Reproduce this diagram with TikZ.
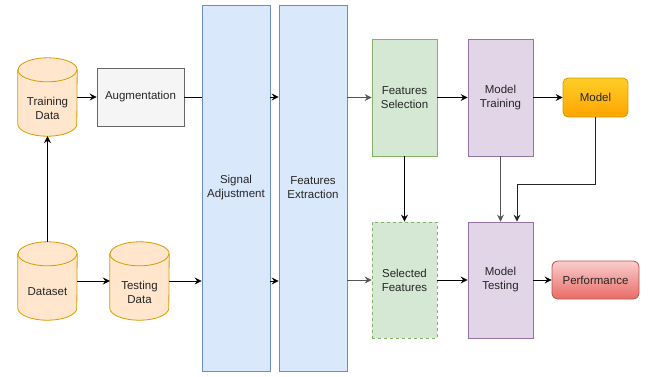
\documentclass[tikz,border=0pt]{standalone}
\usepackage{fontspec}
\setmainfont{Liberation Sans}
\usetikzlibrary{arrows.meta}
\definecolor{orF}{HTML}{FFE6CC}\definecolor{orD}{HTML}{D79B00}
\definecolor{grF}{HTML}{F5F5F5}\definecolor{grD}{HTML}{666666}
\definecolor{blF}{HTML}{DAE8FC}\definecolor{blD}{HTML}{6C8EBF}
\definecolor{gnF}{HTML}{D5E8D4}\definecolor{gnD}{HTML}{82B366}
\definecolor{puF}{HTML}{E1D5E7}\definecolor{puD}{HTML}{9673A6}
\definecolor{moT}{HTML}{FFCD28}\definecolor{moB}{HTML}{FFA500}
\definecolor{peT}{HTML}{F8CECC}\definecolor{peB}{HTML}{EA6B66}\definecolor{peD}{HTML}{B85450}
\definecolor{lnG}{HTML}{555555}
\tikzset{
  lbl/.style={font=\fontsize{11.5}{14}\selectfont, align=center, text=black!85},
  box/.style={lbl, draw, line width=0.8pt, inner sep=0pt},
  cylbox/.style={minimum width=59pt, minimum height=78pt, inner sep=0pt},
  cylline/.style={draw=orD, fill=orF, line width=0.8pt},
  arr/.style={line width=0.8pt, -{Stealth[length=7pt,width=7pt,inset=2.5pt]}},
  ln/.style={line width=0.8pt},
}
\newcommand\mycyl[3]{%
  \node[cylbox] (#1) at (#2) {};
  \path[cylline] ([yshift=-12pt]#1.north west) -- ([yshift=12pt]#1.south west)
     arc[start angle=180,end angle=360,x radius=29.5pt,y radius=12pt]
     -- ([yshift=-12pt]#1.north east)
     arc[start angle=0,end angle=180,x radius=29.5pt,y radius=12pt] -- cycle;
  \draw[orD, line width=0.8pt] ([yshift=-12pt]#1.north west)
     arc[start angle=180,end angle=360,x radius=29.5pt,y radius=12pt];
  \node[lbl] at ([yshift=-11pt]#1.center) {#3};
}
\begin{document}
\begin{tikzpicture}[x=1pt,y=-1pt]
\useasboundingbox (0,0) rectangle (650,376);
% big columns
\node[box, draw=blD, fill=blF, minimum width=68pt, minimum height=366pt] (sig) at (236,188) {Signal\\Adjustment};
\node[box, draw=blD, fill=blF, minimum width=68pt, minimum height=366pt] (fe) at (313,188) {Features\\Extraction};
% cylinders
\mycyl{train}{47.5,97}{Training\\Data}
\mycyl{data}{47.5,281}{Dataset}
\mycyl{test}{139.5,281}{Testing\\Data}
% boxes
\node[box, draw=grD, fill=grF, minimum width=87pt, minimum height=58pt] (aug) at (140.5,97) {Augmentation};
\node[box, draw=gnD, fill=gnF, minimum width=65pt, minimum height=117pt] (fs) at (404.5,97.5) {Features\\Selection};
\node[box, draw=puD, fill=puF, minimum width=65pt, minimum height=117pt] (mtr) at (500.5,97.5) {Model\\Training};
\node[box, draw=orD, top color=moT, bottom color=moB, rounded corners=5pt, minimum width=65pt, minimum height=39pt] (model) at (595.5,97.5) {Model};
\node[box, draw=gnD, fill=gnF, dashed, minimum width=65pt, minimum height=116pt] (sel) at (404.5,280) {Selected\\Features};
\node[box, draw=puD, fill=puF, minimum width=65pt, minimum height=116pt] (mt) at (500.5,280) {Model\\Testing};
\node[box, draw=peD, top color=peT, bottom color=peB, rounded corners=6pt, minimum width=87pt, minimum height=38pt] (perf) at (595.5,280) {Performance};
% connectors
\draw[arr] (data.north) -- (train.south);
\draw[arr] (train.east |- aug) -- (aug.west);
\draw[ln] (aug.east) -- (aug -| sig.west);
\draw[arr] (data.east) -- (test.west);
\draw[arr] (test.east) -- (test -| sig.west);
\draw[arr] (sig.east |- aug) -- (fe.west |- aug);
\draw[arr] (sig.east |- test) -- (fe.west |- test);
\draw[arr, lnG] (fe.east |- fs) -- (fs.west);
\draw[arr, lnG] (fe.east |- sel) -- (sel.west);
\draw[arr] (fs.east) -- (mtr.west);
\draw[arr] (mtr.east) -- (model.west);
\draw[arr] (fs.south) -- (sel.north);
\draw[arr] (sel.east) -- (mt.west);
\draw[arr] (mt.east) -- (perf.west);
\draw[arr, lnG] (mtr.south) -- (mt.north);
\coordinate (knee) at (517,184);
\draw[arr, black!85] (model.south) |- (knee) -- (knee |- mt.north);
\end{tikzpicture}
\end{document}
